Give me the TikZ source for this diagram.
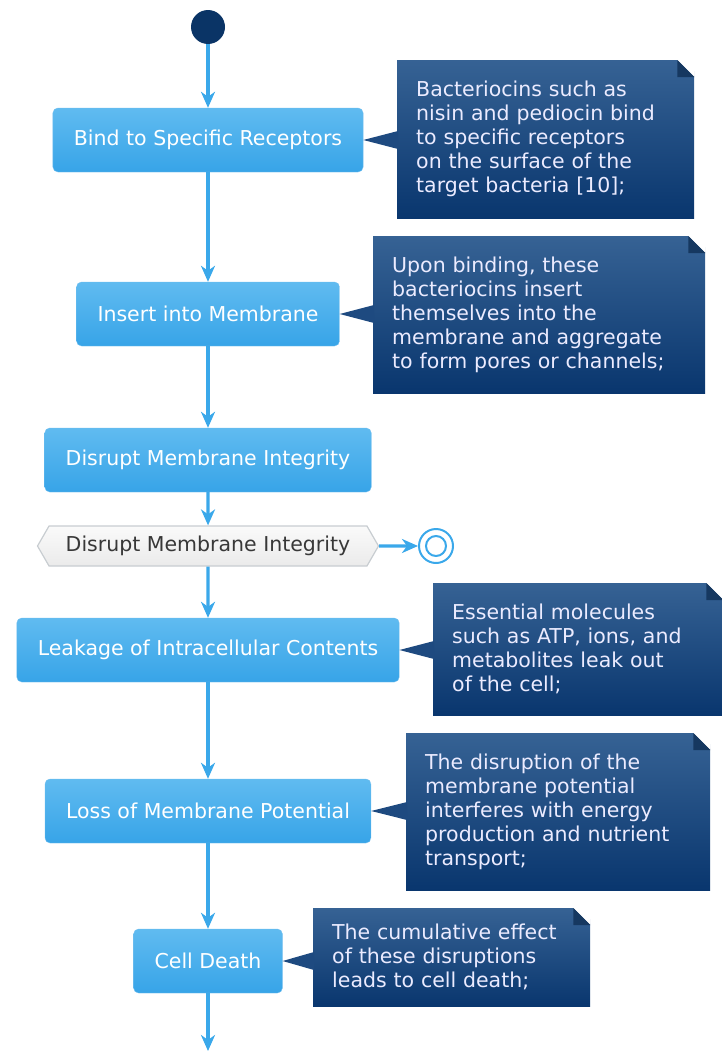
\documentclass[tikz,border=0pt]{standalone}
\usepackage{fontspec}
\setmainfont{DejaVu Sans}
\usetikzlibrary{arrows.meta,calc,shapes.symbols}
\definecolor{boxtop}{RGB}{96,187,240}
\definecolor{boxbot}{RGB}{55,164,232}
\definecolor{notetop}{RGB}{54,98,148}
\definecolor{notebot}{RGB}{9,54,110}
\definecolor{notemid}{RGB}{30,74,128}
\definecolor{flow}{RGB}{58,168,234}
\definecolor{startcol}{RGB}{10,52,102}
\definecolor{hexline}{RGB}{200,205,209}

\begin{document}
\begin{tikzpicture}[x=1pt,y=-1pt,
  every node/.style={font=\fontsize{20.5}{24}\selectfont},
  act/.style={rectangle,rounded corners=5pt,top color=boxtop,bottom color=boxbot,
    draw=boxbot!70!white,text=white,minimum height=64pt,inner xsep=21pt},
  note/.style={anchor=north west,top color=notetop,bottom color=notebot,
    text=white!92!blue,align=left,inner xsep=19pt,inner ysep=0pt},
  flowline/.style={draw=flow,line width=3.2pt,-{Stealth[length=16pt,width=14pt,inset=5pt]}}]
  \useasboundingbox (0,0) rectangle (721,1052);

  \node[circle,fill=startcol,minimum size=34pt,inner sep=0pt] (start) at (208,27) {};
  \node[act] (b1) at (208,140) {Bind to Specific Receptors};
  \node[act] (b2) at (208,314) {Insert into Membrane};
  \node[act] (b3) at (208,460) {Disrupt Membrane Integrity};
  \node[signal,signal to=west and east,signal pointer angle=120,top color=white!96!gray,
    bottom color=black!8,draw=hexline,line width=1.2pt,minimum width=341pt,
    minimum height=40pt,text=black!78] (hex) at (208,546) {Disrupt Membrane Integrity};
  \node[circle,draw=flow,line width=2pt,minimum size=34pt,inner sep=0pt] (stop) at (436,546) {};
  \node[circle,draw=flow,line width=2pt,minimum size=20pt,inner sep=0pt] (stopin) at (stop) {};
  \node[act] (b4) at (208,650) {Leakage of Intracellular Contents};
  \node[act] (b5) at (208,811) {Loss of Membrane Potential};
  \node[act] (b6) at (208,961) {Cell Death};
  \coordinate (out) at (208,1051);

  \node[note,text width=259pt,minimum height=158pt] (n1) at (397,60)
    {Bacteriocins such as\\nisin and pediocin bind\\to specific receptors\\on the surface of the\\target bacteria [10];};
  \node[note,text width=294pt,minimum height=157pt] (n2) at (373,236)
    {Upon binding, these\\bacteriocins insert\\themselves into the\\membrane and aggregate\\to form pores or channels;};
  \node[note,text width=252pt,minimum height=132pt] (n4) at (433,583)
    {Essential molecules\\such as ATP, ions, and\\metabolites leak out\\of the cell;};
  \node[note,text width=266pt,minimum height=157pt] (n5) at (406,733)
    {The disruption of the\\membrane potential\\interferes with energy\\production and nutrient\\transport;};
  \node[note,text width=239pt,minimum height=98pt] (n6) at (313,908)
    {The cumulative effect\\of these disruptions\\leads to cell death;};

  % note pointers and folded corners
  \foreach \b/\n in {b1/n1,b2/n2,b4/n4,b5/n5,b6/n6}
    \fill[notemid] (\b.east) -- ($(\n.west |- \b.east)+(1,-9)$) -- ($(\n.west |- \b.east)+(1,9)$) -- cycle;
  \foreach \n in {n1,n2,n4,n5,n6} {
    \fill[white] ([xshift=-17pt]\n.north east) -- ([xshift=1pt,yshift=1pt]\n.north east) -- ([yshift=-17pt]\n.north east) -- cycle;
    \fill[notemid!75!black] ([xshift=-17pt]\n.north east) -- ([xshift=-17pt,yshift=-17pt]\n.north east) -- ([yshift=-17pt]\n.north east) -- cycle;
  }

  \draw[flowline] (start) -- (b1);
  \draw[flowline] (b1) -- (b2);
  \draw[flowline] (b2) -- (b3);
  \draw[flowline] (b3) -- (hex);
  \draw[flowline] (hex) -- (stop);
  \draw[flowline] (hex) -- (b4);
  \draw[flowline] (b4) -- (b5);
  \draw[flowline] (b5) -- (b6);
  \draw[flowline] (b6) -- (out);
\end{tikzpicture}
\end{document}
